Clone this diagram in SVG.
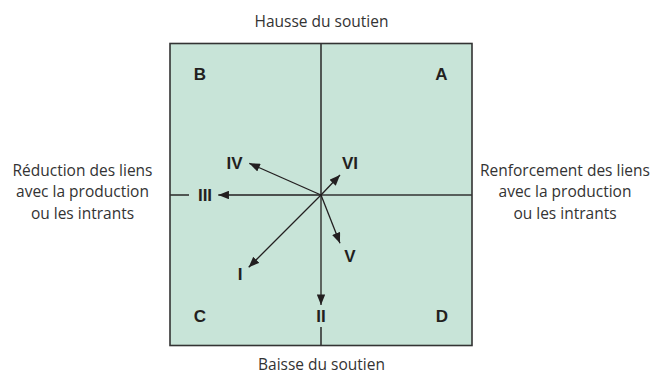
<svg xmlns="http://www.w3.org/2000/svg" width="659" height="376" viewBox="0 0 659 376">
<defs>
<style>
.axis{stroke:#333333;stroke-width:1.6;fill:none}
.arr{stroke:#231f20;stroke-width:1.3;fill:none;marker-end:url(#ah)}
.lbl{font-family:"Open Sans","Liberation Sans",sans-serif;font-size:15.5px;fill:#333333;text-anchor:middle}
.rn{font-family:"Liberation Sans",Arial,sans-serif;font-size:17px;font-weight:bold;fill:#231f20;text-anchor:middle}
</style>
<marker id="ah" viewBox="0 0 10 8" refX="10" refY="4" markerWidth="11" markerHeight="8.5" markerUnits="userSpaceOnUse" orient="auto">
<path d="M0,0 L10,4 L0,8 Z" fill="#231f20"/>
</marker>
</defs>
<g id="quadrant-box">
<rect x="170" y="43.5" width="302" height="302" fill="#c8e4d8" stroke="#333333" stroke-width="1.6"/>
</g>
<g id="axes">
<line class="axis" x1="321" y1="43.5" x2="321" y2="195"/>
<line class="axis" x1="321" y1="327" x2="321" y2="345.5"/>
<line class="axis" x1="321" y1="195" x2="472" y2="195"/>
<line class="axis" x1="170" y1="195" x2="189" y2="195"/>
</g>
<g id="connectors">
<line class="arr" x1="321" y1="195" x2="249.3" y2="163.3"/>
<line class="arr" x1="321" y1="195" x2="340" y2="175"/>
<line class="arr" x1="321" y1="195" x2="340" y2="243.3"/>
<line class="arr" x1="321" y1="195" x2="248.7" y2="267.3"/>
<line class="arr" x1="321" y1="195" x2="218.3" y2="195"/>
<line class="arr" x1="321" y1="195" x2="321" y2="305"/>
</g>
<g id="quadrant-labels">
<text class="rn" x="200" y="80">B</text>
<text class="rn" x="441.5" y="80">A</text>
<text class="rn" x="200" y="322">C</text>
<text class="rn" x="442" y="322">D</text>
</g>
<g id="node-I"><text class="rn" x="240" y="279.5">I</text></g>
<g id="node-II"><text class="rn" x="321" y="322">II</text></g>
<g id="node-III"><text class="rn" x="205" y="200.7">III</text></g>
<g id="node-IV"><text class="rn" x="234.5" y="168.5">IV</text></g>
<g id="node-V"><text class="rn" x="350" y="262">V</text></g>
<g id="node-VI"><text class="rn" x="350" y="169">VI</text></g>
<g id="top-label"><text class="lbl" x="321.5" y="27">Hausse du soutien</text></g>
<g id="bottom-label"><text class="lbl" x="321.5" y="370">Baisse du soutien</text></g>
<g id="left-label">
<text class="lbl" x="82.5" y="175.5">Réduction des liens</text>
<text class="lbl" x="82.5" y="197">avec la production</text>
<text class="lbl" x="82.5" y="218.5">ou les intrants</text>
</g>
<g id="right-label">
<text class="lbl" x="565" y="175.5">Renforcement des liens</text>
<text class="lbl" x="565" y="197">avec la production</text>
<text class="lbl" x="565" y="218.5">ou les intrants</text>
</g>
</svg>
